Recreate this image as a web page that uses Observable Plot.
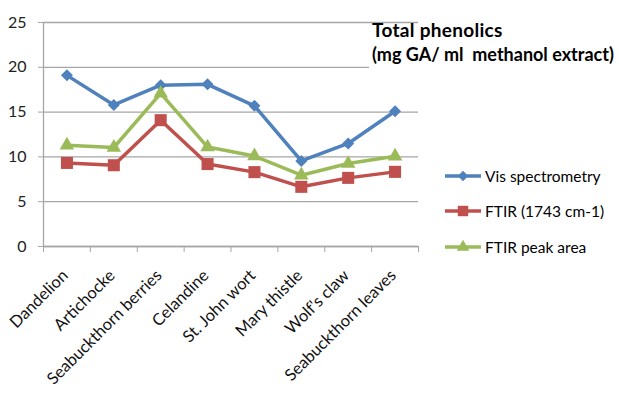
<!DOCTYPE html>
<html><head><meta charset="utf-8">
<script src="https://cdn.jsdelivr.net/npm/d3@7"></script>
<script src="https://cdn.jsdelivr.net/npm/@observablehq/plot@0.6"></script>
<style>
body{margin:0;background:#fff;}
#wrap{position:relative;width:619px;height:397px;overflow:hidden;font-family:Lato,"Open Sans",sans-serif;color:#000;}
#wrap svg.plot{position:absolute;left:0;top:0;}
#cover{position:absolute;left:369px;top:26px;width:250px;height:44px;background:#fff;}
#title{position:absolute;left:369px;top:18px;width:250px;font-weight:bold;line-height:24px;padding-left:3px;white-space:pre;}
#title .l1{font-size:19px;letter-spacing:0.3px;}
#title .l2{font-size:18px;}
#legend{position:absolute;left:445px;top:158px;font-size:15.5px;}
#legend .item{display:flex;align-items:center;height:35.5px;white-space:pre;}
#legend svg{margin-right:2px;}
</style></head><body>
<div id="wrap"></div>
<script>
// ---- data ----
const categories = ["Dandelion", "Artichocke", "Seabuckthorn berries", "Celandine", "St. John wort", "Mary thistle", "Wolf's claw", "Seabuckthorn leaves"];
const visSpectrometry = [19.1, 15.8, 18.0, 18.1, 15.7, 9.55, 11.5, 15.1];
const ftir1743 = [9.33, 9.07, 14.1, 9.2, 8.3, 6.66, 7.66, 8.33];
const ftirPeakArea = [11.3, 11.05, 17.1, 11.1, 10.1, 7.96, 9.26, 10.08];
const seriesNames = ["Vis spectrometry", "FTIR (1743 cm-1)", "FTIR peak area"];
const yTicks = [0, 5, 10, 15, 20, 25];
const titleLines = ["Total phenolics", "(mg GA/ ml  methanol extract)"];

const colors = ["#4F81BD", "#C0504D", "#9BBB59"];
const symbols = ["diamond2", "square", "triangle"];
const radii = [5.4, 6.8, 5.4];
const seriesValues = [visSpectrometry, ftir1743, ftirPeakArea];

const rows = [];
seriesValues.forEach((vals, s) => vals.forEach((v, i) => rows.push({series: seriesNames[s], idx: i, value: v})));
const boundaries = d3.range(categories.length + 1).map(i => i - 0.5);
const gray = "#a6a6a6";

const marks = [
  Plot.gridY(yTicks, {stroke: gray, strokeOpacity: 1, strokeWidth: 1.3}),
  Plot.axisY({ticks: yTicks, label: null, tickSize: 5, tickPadding: 12, stroke: gray, fontSize: 16, color: "#222", tickFormat: d => String(d)}),
  Plot.axisX({ticks: boundaries, label: null, tickSize: 6, tickFormat: () => "", stroke: gray}),
  Plot.ruleX([-0.5], {stroke: gray, strokeWidth: 1.3}),
  Plot.ruleY([0], {stroke: gray, strokeWidth: 1.3}),
  Plot.text(categories, {x: (d, i) => i, frameAnchor: "bottom", rotate: -45, textAnchor: "end", dx: 2, dy: 30, fontSize: 16.5, fill: "#111"})
];
seriesNames.forEach((name, s) => {
  const data = rows.filter(r => r.series === name);
  marks.push(Plot.line(data, {x: "idx", y: "value", stroke: colors[s], strokeWidth: 3.5}));
  marks.push(Plot.dot(data, {x: "idx", y: "value", fill: colors[s], stroke: "none", symbol: () => symbols[s], r: radii[s]}));
});

const chart = Plot.plot({
  width: 619, height: 397,
  marginLeft: 43, marginRight: 201, marginTop: 22, marginBottom: 151,
  style: {fontFamily: "Lato, 'Open Sans', sans-serif", background: "transparent", overflow: "visible"},
  x: {type: "linear", domain: [-0.5, categories.length - 0.5], axis: null},
  y: {domain: [0, 25], axis: null},
  symbol: {type: "identity"},
  marks
});
const wrap = document.getElementById("wrap");
wrap.appendChild(chart);

const cover = document.createElement("div");
cover.id = "cover";
wrap.appendChild(cover);

const title = document.createElement("div");
title.id = "title";
titleLines.forEach((line, i) => {
  const d = document.createElement("div");
  d.className = "l" + (i + 1);
  d.textContent = line;
  title.appendChild(d);
});
wrap.appendChild(title);

const legend = document.createElement("div");
legend.id = "legend";
seriesNames.forEach((name, s) => {
  const item = document.createElement("div");
  item.className = "item";
  const sw = d3.create("svg").attr("width", 38).attr("height", 16);
  sw.append("line").attr("x1", 0).attr("x2", 36).attr("y1", 8).attr("y2", 8).attr("stroke", colors[s]).attr("stroke-width", 3.5);
  const symMap = {diamond2: d3.symbolDiamond2, square: d3.symbolSquare, triangle: d3.symbolTriangle};
  sw.append("path").attr("transform", "translate(18,8)").attr("fill", colors[s])
    .attr("d", d3.symbol(symMap[symbols[s]], Math.PI * radii[s] * radii[s] * 0.75)());
  item.appendChild(sw.node());
  const t = document.createElement("span");
  t.textContent = name;
  item.appendChild(t);
  legend.appendChild(item);
});
wrap.appendChild(legend);
</script>
</body></html>
